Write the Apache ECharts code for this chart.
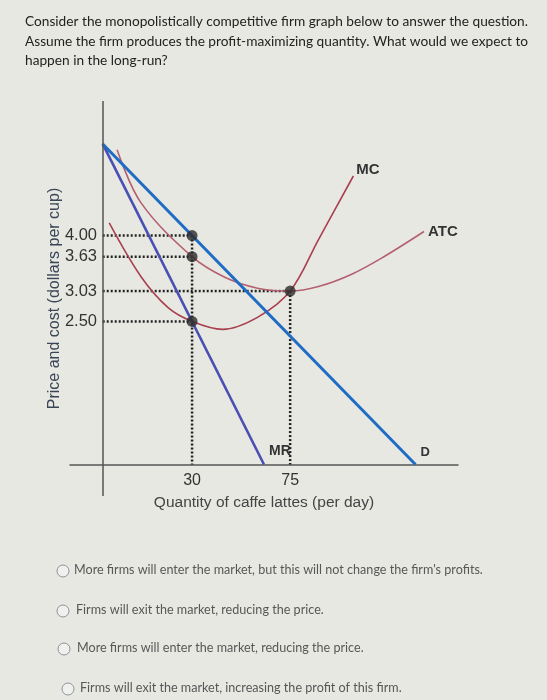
<!DOCTYPE html>
<html>
<head>
<meta charset="utf-8">
<script src="https://cdn.jsdelivr.net/npm/echarts@6/dist/echarts.min.js"></script>
<style>
  html, body { margin: 0; padding: 0; background: #e8e8e3; }
  #chart { width: 547px; height: 700px; }
</style>
</head>
<body>
<div id="chart"></div>
<script>
// ---- data ----
const questionLines = [
  "Consider the monopolistically competitive firm graph below to answer the question.",
  "Assume the firm produces the profit-maximizing quantity. What would we expect to",
  "happen in the long-run?"
];
const answerOptions = [
  "More firms will enter the market, but this will not change the firm's profits.",
  "Firms will exit the market, reducing the price.",
  "More firms will enter the market, reducing the price.",
  "Firms will exit the market, increasing the profit of this firm."
];
const quantityTicks = [30, 75];
const priceTicks = [4.00, 3.63, 3.03, 2.50];
const demandCurve = [[-11, 5.6], [132.5, 0]];
const mrCurve = [[-11, 5.6], [63, 0]];
const mcCurve = [[-8, 4.22], [6.6, 3.28], [19, 2.74], [30, 2.50], [44, 2.36], [60, 2.57], [75, 3.03], [88, 3.93], [104, 5.04]];
const atcCurve = [[-4.4, 5.5], [6.6, 4.57], [30, 3.63], [45, 3.27], [60, 3.08], [75, 3.03], [88, 3.11], [103, 3.32], [118, 3.63], [136.4, 4.07]];
const qProfitMax = 30;   // output chosen by the firm
const qAtcMin = 75;      // quantity at minimum ATC
const pPrice = 4.00, pAtc = 3.63, pMinAtc = 3.03, pMc = 2.50;
const yAxisAtQuantity = -11;

// ---- build guide lines from the values ----
const guides = [
  [[yAxisAtQuantity, pPrice], [qProfitMax, pPrice]],
  [[yAxisAtQuantity, pAtc], [qProfitMax, pAtc]],
  [[yAxisAtQuantity, pMc], [qProfitMax, pMc]],
  [[yAxisAtQuantity, pMinAtc], [qAtcMin, pMinAtc]],
  [[qProfitMax, pPrice], [qProfitMax, 0]],
  [[qAtcMin, pMinAtc], [qAtcMin, 0]]
];
const dots = [[qProfitMax, pPrice], [qProfitMax, pAtc], [qProfitMax, pMc], [qAtcMin, pMinAtc]];

const chart = echarts.init(document.getElementById('chart'), null, { renderer: 'canvas' });

const labelFont = { fontFamily: 'Liberation Sans, Arial, sans-serif', fontWeight: 'bold', fontSize: 14, color: '#333' };

const graphics = [];
questionLines.forEach((t, i) => {
  graphics.push({
    type: 'text', left: 25, top: 15 + i * 19.5,
    style: { text: t, font: '13.7px Lato, sans-serif', fill: '#222' }
  });
});
const optY = [571, 611, 649, 689];
const optCx = [63, 63, 64, 68];
const optTx = [74, 76, 77, 80];
answerOptions.forEach((t, i) => {
  graphics.push({
    type: 'circle', shape: { cx: optCx[i], cy: optY[i], r: 6 },
    style: { fill: '#f0f0ed', stroke: '#8a949c', lineWidth: 1 }
  });
  graphics.push({
    type: 'text', left: optTx[i], top: optY[i] - 8,
    style: { text: t, font: '12.6px Lato, sans-serif', fill: '#575757' }
  });
});

const series = [];
guides.forEach(g => {
  series.push({
    type: 'line', data: g, symbol: 'none', silent: true, z: 2,
    lineStyle: { color: '#222', width: 2.5, type: [2, 2] }
  });
});
series.push({
  type: 'line', data: atcCurve, smooth: 0.35, symbol: 'none', z: 3,
  lineStyle: { color: '#b4606e', width: 1.6 },
  endLabel: { show: true, formatter: 'ATC', ...labelFont, fontSize: 15, offset: [-4, 0] }
});
series.push({
  type: 'line', data: mcCurve, smooth: 0.35, symbol: 'none', z: 3,
  lineStyle: { color: '#a8404f', width: 1.6 },
  endLabel: { show: true, formatter: 'MC', ...labelFont, fontSize: 15, offset: [-5, -6] }
});
series.push({
  type: 'line', data: mrCurve, symbol: 'none', z: 4,
  lineStyle: { color: '#4a4fb2', width: 2.6 },
  endLabel: { show: true, formatter: 'MR', ...labelFont, offset: [-3, -13] }
});
series.push({
  type: 'line', data: demandCurve, symbol: 'none', z: 4,
  lineStyle: { color: '#1f6cc4', width: 3 },
  endLabel: { show: true, formatter: 'D', ...labelFont, fontSize: 13, offset: [-3, -12] },
  markLine: {
    silent: true, symbol: 'none', label: { show: false },
    lineStyle: { color: '#555', width: 1.5, type: 'solid' },
    data: [{ xAxis: yAxisAtQuantity }]
  }
});
series.push({
  type: 'scatter', data: dots, symbolSize: 11, z: 5,
  itemStyle: { color: '#2a2a2a' }
});

chart.setOption({
  animation: false,
  backgroundColor: '#e8e8e3',
  graphic: graphics,
  grid: { left: 70, top: 101, width: 388, height: 395, containLabel: false },
  xAxis: {
    type: 'value', min: -26, max: 152, offset: -31,
    name: 'Quantity of caffe lattes (per day)', nameLocation: 'middle', nameGap: 30,
    nameTextStyle: { fontFamily: 'Liberation Sans, Arial, sans-serif', fontSize: 15.5, color: '#444' },
    axisLine: { show: true, onZero: false, lineStyle: { color: '#555', width: 1.5 } },
    axisTick: { show: false },
    splitLine: { show: false },
    axisLabel: {
      customValues: quantityTicks, margin: 8,
      fontFamily: 'Liberation Sans, Arial, sans-serif', fontSize: 16, color: '#333'
    }
  },
  yAxis: {
    type: 'value', min: -0.55, max: 6.35, offset: -31,
    name: 'Price and cost (dollars per cup)', nameLocation: 'middle', nameGap: 38, nameRotate: 90,
    nameMoveOverlap: false,
    nameTextStyle: { fontFamily: 'Liberation Sans, Arial, sans-serif', fontSize: 16, color: '#3a4556' },
    axisLine: { show: false },
    axisTick: { show: false },
    splitLine: { show: false },
    axisLabel: {
      customValues: priceTicks, margin: 4,
      formatter: v => v.toFixed(2),
      fontFamily: 'Liberation Sans, Arial, sans-serif', fontSize: 16.5, color: '#333'
    }
  },
  series: series
});
</script>
</body>
</html>
